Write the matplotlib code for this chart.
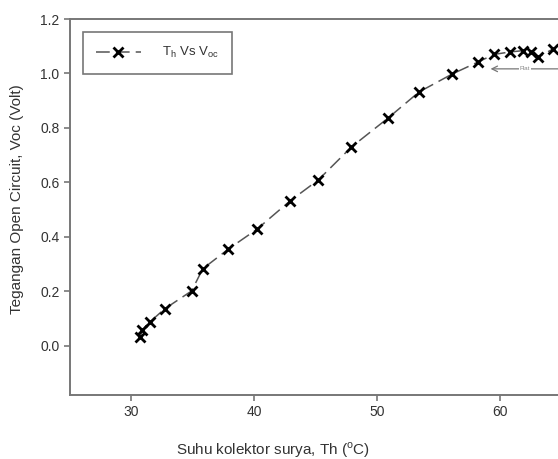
import matplotlib.pyplot as plt

# Data
suhu_th = [30.7, 30.9, 31.5, 32.7, 34.9, 35.8, 37.9, 40.2, 42.9, 45.2,
           47.9, 50.9, 53.4, 56.1, 58.2, 59.5, 60.8, 61.9, 62.5, 63.1, 64.3]
teg_voc = [0.033, 0.06, 0.088, 0.136, 0.202, 0.283, 0.356, 0.428, 0.532, 0.609,
           0.730, 0.837, 0.932, 0.998, 1.042, 1.070, 1.079, 1.084, 1.078, 1.060, 1.090]
x_ticks = [30, 40, 50, 60]
y_ticks = [0.0, 0.2, 0.4, 0.6, 0.8, 1.0, 1.2]

plt.rcParams['font.family'] = ['Liberation Sans', 'DejaVu Sans']

fig = plt.figure(figsize=(5.58, 4.59), dpi=100)
fig.set_facecolor('white')
ax = fig.add_axes([0.1254, 0.1394, 0.991, 0.8192])

# Line plot with cross markers
ax.plot(suhu_th, teg_voc, linestyle=(0, (9, 4)), color='#555555', linewidth=1.1,
        marker='x', markersize=6.5, markeredgewidth=2.0, markeredgecolor='black',
        label=r'T$_\mathregular{h}$ Vs V$_\mathregular{oc}$')

ax.set_xlim(25, 70)
ax.set_ylim(-0.18, 1.2)
ax.set_xticks(x_ticks)
ax.set_yticks(y_ticks)
ax.set_yticklabels([f'{v:.1f}' for v in y_ticks])

# "Flat" region annotation
ax.annotate('', xy=(59.0, 1.017), xytext=(66.5, 1.017),
            arrowprops=dict(arrowstyle='<->', color='#777777', lw=0.9))
ax.text(62.0, 1.017, 'Flat', fontsize=4.5, color='#888888', ha='center', va='center',
        bbox=dict(facecolor='white', edgecolor='none', pad=0.5))

# Axis styling
for side in ['left', 'bottom', 'top']:
    ax.spines[side].set_color('#777777')
    ax.spines[side].set_linewidth(1.4)
ax.spines['right'].set_visible(False)
ax.tick_params(axis='both', colors='#777777', labelcolor='#333333', labelsize=10,
               length=4, width=1.2, direction='out')

ax.set_xlabel(r'Suhu kolektor surya, Th ($^\mathregular{o}$C)', fontsize=11, color='#333333')
ax.set_ylabel('Tegangan Open Circuit, Voc (Volt)', fontsize=11, color='#333333')
ax.xaxis.set_label_coords(0.367, -0.12)
ax.yaxis.set_label_coords(-0.083, 0.52)

leg = ax.legend(loc='upper left', bbox_to_anchor=(0.023, 0.965), fontsize=9.5,
                frameon=True, fancybox=False, handlelength=3.4, borderpad=1.0,
                handletextpad=1.6, borderaxespad=0)
leg.get_frame().set_edgecolor('#555555')
leg.get_frame().set_linewidth(1.2)
for t in leg.get_texts():
    t.set_color('#333333')

fig.savefig('out.png', dpi=100)
